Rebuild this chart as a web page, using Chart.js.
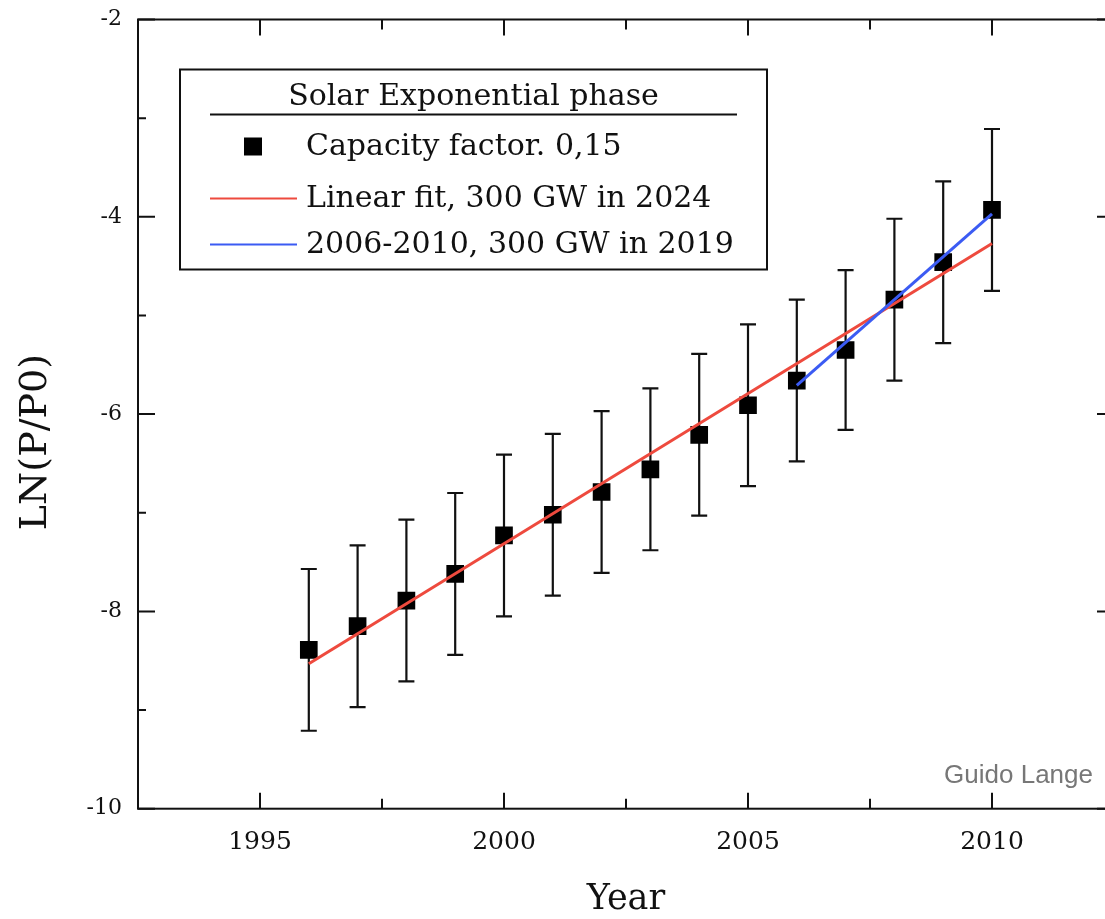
<!DOCTYPE html>
<html>
<head>
<meta charset="utf-8">
<title>Solar Exponential phase</title>
<script src="https://cdn.jsdelivr.net/npm/chart.js@4.4.1/dist/chart.umd.min.js"></script>
<style>
  html, body { margin: 0; padding: 0; background: #fff; overflow: hidden; }
  #wrap { position: relative; width: 1130px; height: 919px; }
</style>
</head>
<body>
<div id="wrap">
  <canvas id="lnChart" width="1130" height="919"></canvas>
</div>
<script>
// data
const years = [1996, 1997, 1998, 1999, 2000, 2001, 2002, 2003, 2004, 2005, 2006, 2007, 2008, 2009, 2010];
const lnValues = [-8.39, -8.15, -7.89, -7.62, -7.23, -7.02, -6.79, -6.56, -6.21, -5.91, -5.66, -5.35, -4.84, -4.46, -3.93];
const errors = [0.82, 0.82, 0.82, 0.82, 0.82, 0.82, 0.82, 0.82, 0.82, 0.82, 0.82, 0.81, 0.82, 0.82, 0.82];

const linearFitYears = [1996, 2010];
const linearFitValues = [-8.53, -4.27];
const recentFitYears = [2006, 2010];
const recentFitValues = [-5.71, -3.97];

const xTickValues = [1995, 2000, 2005, 2010];
const xMinorTicks = [1992.5, 1997.5, 2002.5, 2007.5, 2012.5];
const yTickValues = [-10, -8, -6, -4, -2];
const yMinorTicks = [-9, -7, -5, -3];

const legendTitle = 'Solar Exponential phase';
const seriesLabels = ['Capacity factor. 0,15', 'Linear fit, 300 GW in 2024', '2006-2010, 300 GW in 2019'];
const yTitle = 'LN(P/P0)';

const INK = '#111';
const SERIF = '"DejaVu Serif", "Liberation Serif", serif';

function toPoints(xs, ys) {
  return xs.map((x, i) => ({ x, y: ys[i] }));
}

// error bars go under the squares
const errorBars = {
  id: 'errorBars',
  beforeDatasetsDraw(chart) {
    const { ctx, scales: { x, y } } = chart;
    ctx.save();
    ctx.strokeStyle = INK;
    ctx.lineWidth = 2.2;
    years.forEach((yr, i) => {
      const px = x.getPixelForValue(yr);
      const top = y.getPixelForValue(lnValues[i] + errors[i]);
      const bot = y.getPixelForValue(lnValues[i] - errors[i]);
      ctx.beginPath();
      ctx.moveTo(px, top);
      ctx.lineTo(px, bot);
      ctx.moveTo(px - 8, top);
      ctx.lineTo(px + 8, top);
      ctx.moveTo(px - 8, bot);
      ctx.lineTo(px + 8, bot);
      ctx.stroke();
    });
    ctx.restore();
  }
};

// box frame with inward ticks on all four sides, y title, credit
const frame = {
  id: 'frame',
  afterDraw(chart) {
    const { ctx, chartArea: a, scales: { x, y } } = chart;
    ctx.save();
    ctx.strokeStyle = INK;
    ctx.lineWidth = 2;
    ctx.strokeRect(a.left, a.top, a.right - a.left, a.bottom - a.top);
    ctx.beginPath();
    const xTick = (v, len) => {
      const p = x.getPixelForValue(v);
      ctx.moveTo(p, a.bottom); ctx.lineTo(p, a.bottom - len);
      ctx.moveTo(p, a.top); ctx.lineTo(p, a.top + len);
    };
    const yTick = (v, len) => {
      const p = y.getPixelForValue(v);
      ctx.moveTo(a.left, p); ctx.lineTo(a.left + len, p);
      ctx.moveTo(a.right, p); ctx.lineTo(a.right - len, p);
    };
    xTickValues.forEach(v => xTick(v, 16));
    xMinorTicks.forEach(v => xTick(v, 10));
    yTickValues.forEach(v => yTick(v, 17));
    yMinorTicks.forEach(v => yTick(v, 8));
    ctx.stroke();

    // y title sits a bit below the axis middle
    ctx.save();
    ctx.translate(36, 442);
    ctx.rotate(-Math.PI / 2);
    ctx.fillStyle = INK;
    ctx.font = '38px ' + SERIF;
    ctx.textAlign = 'center';
    ctx.textBaseline = 'middle';
    ctx.fillText(yTitle, 0, 0);
    ctx.restore();

    // credit
    ctx.fillStyle = '#777';
    ctx.font = '26px "Liberation Sans", Arial, sans-serif';
    ctx.textAlign = 'right';
    ctx.textBaseline = 'alphabetic';
    ctx.fillText('Guido Lange', 1093, 783);
    ctx.restore();
  }
};

// boxed legend with underlined title
const boxLegend = {
  id: 'boxLegend',
  afterDraw(chart) {
    const { ctx, chartArea: a } = chart;
    const left = a.left + 42, top = a.top + 50, w = 587, h = 200;
    ctx.save();
    ctx.fillStyle = '#fff';
    ctx.fillRect(left, top, w, h);
    ctx.strokeStyle = INK;
    ctx.lineWidth = 2;
    ctx.strokeRect(left, top, w, h);

    ctx.fillStyle = INK;
    ctx.font = '30px ' + SERIF;
    ctx.textBaseline = 'middle';
    ctx.textAlign = 'center';
    ctx.fillText(legendTitle, left + w / 2, top + 28);
    ctx.beginPath();
    ctx.moveTo(left + 30, top + 45);
    ctx.lineTo(left + 557, top + 45);
    ctx.stroke();

    const rows = [top + 77, top + 129, top + 175];
    ctx.textAlign = 'left';
    chart.data.datasets.forEach((ds, i) => {
      const ry = rows[i];
      if (ds.showLine === false) {
        ctx.fillStyle = ds.backgroundColor;
        ctx.fillRect(left + 64, ry - 9, 18, 18);
      } else {
        ctx.strokeStyle = ds.borderColor;
        ctx.lineWidth = 2;
        ctx.beginPath();
        ctx.moveTo(left + 30, ry);
        ctx.lineTo(left + 117, ry);
        ctx.stroke();
      }
      ctx.fillStyle = INK;
      ctx.fillText(ds.label, left + 126, ry + 1);
    });
    ctx.restore();
  }
};

new Chart(document.getElementById('lnChart'), {
  type: 'scatter',
  data: {
    datasets: [
      {
        label: seriesLabels[0],
        data: toPoints(years, lnValues),
        showLine: false,
        pointStyle: 'rect',
        pointRadius: 12.5,
        pointHoverRadius: 12.5,
        backgroundColor: '#000',
        borderColor: '#000',
        borderWidth: 0,
        order: 3,
      },
      {
        label: seriesLabels[1],
        data: toPoints(linearFitYears, linearFitValues),
        showLine: true,
        borderColor: '#ee4a3e',
        borderWidth: 3,
        pointRadius: 0,
        order: 2,
      },
      {
        label: seriesLabels[2],
        data: toPoints(recentFitYears, recentFitValues),
        showLine: true,
        borderColor: '#3b5bf3',
        borderWidth: 3,
        pointRadius: 0,
        order: 1,
      },
    ],
  },
  options: {
    responsive: false,
    animation: false,
    events: [],
    layout: {
      padding: { top: 19.5, right: 16, left: 0, bottom: 0 },
    },
    plugins: {
      legend: { display: false },
      tooltip: { enabled: false },
    },
    scales: {
      x: {
        type: 'linear',
        min: 1992.5,
        max: 2012.5,
        afterBuildTicks: scale => {
          scale.ticks = xTickValues.map(v => ({ value: v }));
        },
        afterFit: scale => {
          scale.height = 110.3;
          scale.paddingLeft = 0;
          scale.paddingRight = 0;
        },
        grid: { display: false, drawTicks: false },
        border: { display: false },
        ticks: {
          color: INK,
          padding: 19,
          maxRotation: 0,
          font: { family: SERIF, size: 25 },
          callback: value => String(value),
        },
        title: {
          display: true,
          text: 'Year',
          color: INK,
          font: { family: SERIF, size: 35, lineHeight: 1 },
          padding: { top: 0, bottom: 2 },
        },
      },
      y: {
        min: -10,
        max: -2,
        afterBuildTicks: scale => {
          scale.ticks = yTickValues.map(v => ({ value: v }));
        },
        afterFit: scale => {
          scale.width = 138;
          scale.paddingTop = 0;
          scale.paddingBottom = 0;
        },
        grid: { display: false, drawTicks: false },
        border: { display: false },
        ticks: {
          color: INK,
          padding: 16,
          font: { family: SERIF, size: 22 },
          callback: value => String(value),
        },
      },
    },
  },
  plugins: [errorBars, frame, boxLegend],
});
</script>
</body>
</html>
